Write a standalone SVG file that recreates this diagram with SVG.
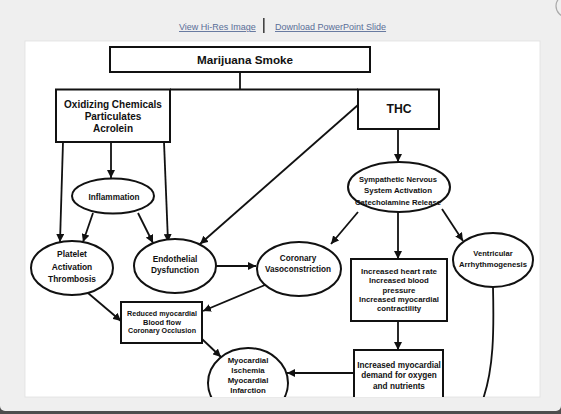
<svg xmlns="http://www.w3.org/2000/svg" width="561" height="414" viewBox="0 0 561 414">
<style>
.box{fill:#fff;stroke:#111;stroke-width:2}
.ell{fill:#fff;stroke:#111;stroke-width:2}
.ln{fill:none;stroke:#111;stroke-width:1.8}
.ar{fill:none;stroke:#111;stroke-width:1.8;marker-end:url(#ah)}
text{font-family:"Liberation Sans",Arial,sans-serif;font-weight:bold;fill:#111;text-anchor:middle}
.lnk{font-weight:normal;fill:#5a6e98;text-decoration:underline;font-size:9px;text-anchor:start}
</style>
<defs>
<marker id="ah" viewBox="0 0 10 10" refX="10" refY="5" markerWidth="8" markerHeight="8" markerUnits="userSpaceOnUse" orient="auto">
<path d="M0,0 L10,5 L0,10 z" fill="#111"/>
</marker>
<clipPath id="pc"><rect x="25" y="41" width="515" height="356"/></clipPath>
</defs>
<rect x="0" y="0" width="561" height="414" fill="#4d4d4d"/>
<rect x="0" y="-6" width="561" height="417" rx="5" fill="#efefef"/>
<circle cx="567" cy="6" r="11" fill="none" stroke="#aaa" stroke-width="1.2"/>
<text class="lnk" x="179" y="30">View Hi-Res Image</text>
<rect x="263" y="18" width="1.6" height="15" fill="#444"/>
<text class="lnk" x="275" y="30">Download PowerPoint Slide</text>
<rect x="25" y="41" width="515" height="356" fill="#fff" stroke="#e0e0e0" stroke-width="0.8"/>
<g clip-path="url(#pc)">
<g id="connectors">
<path class="ln" d="M240,72 V89.5 M170,89.5 H358"/>
<path class="ar" d="M111,142 V178"/>
<path class="ar" d="M63,142 L60,242"/>
<path class="ar" d="M164,142 L168,242"/>
<path class="ar" d="M93,213 L83,242"/>
<path class="ar" d="M138,213 L153,243"/>
<path class="ar" d="M358,105 L200,244"/>
<path class="ar" d="M216,266 H256"/>
<path class="ar" d="M398,129 V162"/>
<path class="ar" d="M358,212 L331,244"/>
<path class="ar" d="M398,212 V259"/>
<path class="ar" d="M442,209 L463,241"/>
<path class="ar" d="M88,293 L121,321"/>
<path class="ar" d="M265,285 L203,311"/>
<path class="ar" d="M202,339 L221,357"/>
<path class="ar" d="M398,321 V350"/>
<path class="ar" d="M354,373 H287"/>
<path class="ln" d="M493,287 C494,330 494,370 482,402"/>
</g>
<g id="smoke"><rect class="box" x="110" y="47" width="260" height="25"/><text x="245" y="64" font-size="11.7">Marijuana Smoke</text></g>
<g id="oxidizing"><rect class="box" x="56" y="89.5" width="114" height="52.5"/>
<text x="113" y="108" font-size="10">Oxidizing Chemicals</text><text x="113" y="120" font-size="10">Particulates</text><text x="113" y="132" font-size="10">Acrolein</text></g>
<g id="thc"><rect class="box" x="358" y="89.5" width="81" height="39.5"/><text x="399" y="113" font-size="12.2">THC</text></g>
<g id="inflammation"><ellipse class="ell" cx="113" cy="196" rx="41" ry="17.5"/><text x="114" y="200" font-size="8.2">Inflammation</text></g>
<g id="platelet"><ellipse class="ell" cx="72" cy="268" rx="41" ry="27"/>
<text x="72" y="257" font-size="8.4">Platelet</text><text x="72" y="270" font-size="8.4">Activation</text><text x="72" y="282" font-size="8.4">Thrombosis</text></g>
<g id="endothelial"><ellipse class="ell" cx="175" cy="266" rx="41" ry="27"/>
<text x="175" y="262" font-size="8.3">Endothelial</text><text x="175" y="273" font-size="8.3">Dysfunction</text></g>
<g id="coronary"><ellipse class="ell" cx="299" cy="269" rx="42" ry="27"/>
<text x="298" y="261" font-size="8.2">Coronary</text><text x="298" y="272" font-size="8.2">Vasoconstriction</text></g>
<g id="reduced"><rect class="box" x="121" y="302" width="81" height="41"/>
<text x="162" y="316" font-size="7.4" textLength="70" lengthAdjust="spacingAndGlyphs">Reduced myocardial</text><text x="162" y="324.5" font-size="7.4">Blood flow</text><text x="162" y="333" font-size="7.4" textLength="68" lengthAdjust="spacingAndGlyphs">Coronary Occlusion</text></g>
<g id="ischemia"><ellipse class="ell" cx="248" cy="383" rx="40" ry="35"/>
<text x="248" y="363" font-size="7.8">Myocardial</text><text x="248" y="373" font-size="7.8">Ischemia</text><text x="248" y="383" font-size="7.8">Myocardial</text><text x="248" y="393" font-size="7.8">Infarction</text></g>
<g id="sympathetic"><ellipse class="ell" cx="399" cy="187" rx="51" ry="25"/>
<text x="398" y="182" font-size="7.8" textLength="78" lengthAdjust="spacingAndGlyphs">Sympathetic Nervous</text><text x="398" y="193" font-size="7.8" textLength="68" lengthAdjust="spacingAndGlyphs">System Activation</text><text x="398" y="205" font-size="7.8" textLength="86" lengthAdjust="spacingAndGlyphs">Catecholamine Release</text></g>
<g id="heart"><rect class="box" x="351" y="259" width="96" height="62"/>
<text x="399" y="274" font-size="7.8" textLength="76" lengthAdjust="spacingAndGlyphs">Increased heart rate</text><text x="399" y="283" font-size="7.8">Increased blood</text><text x="399" y="292.5" font-size="7.8">pressure</text><text x="399" y="302" font-size="7.8" textLength="80" lengthAdjust="spacingAndGlyphs">Increased myocardial</text><text x="399" y="311" font-size="7.8">contractility</text></g>
<g id="ventricular"><ellipse class="ell" cx="493" cy="260" rx="40" ry="27"/>
<text x="493" y="256" font-size="7.6">Ventricular</text><text x="493" y="267" font-size="7.6" textLength="68" lengthAdjust="spacingAndGlyphs">Arrhythmogenesis</text></g>
<g id="demand"><rect class="box" x="354" y="350" width="89" height="70"/>
<text x="399" y="368" font-size="8.2">Increased myocardial</text><text x="399" y="378" font-size="8.2">demand for oxygen</text><text x="399" y="389" font-size="8.2">and nutrients</text></g>
</g>
</svg>
